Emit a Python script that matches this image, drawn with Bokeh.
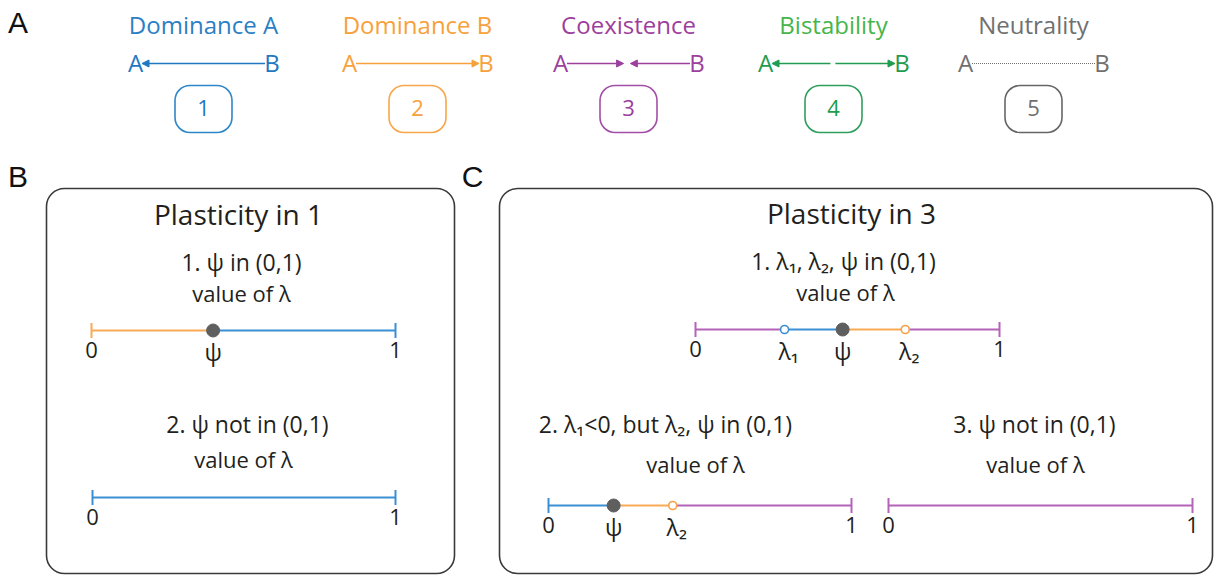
import numpy as np
from bokeh.plotting import figure
from bokeh.models import Range1d, Arrow, NormalHead
from bokeh.core.properties import value
from bokeh.embed import file_html
from bokeh.resources import INLINE

FONT = "Open Sans"

# ---------------- Panel A: the five possible outcomes ----------------
outcome_names = ["Dominance A", "Dominance B", "Coexistence", "Bistability", "Neutrality"]
outcome_ids = ["1", "2", "3", "4", "5"]
outcome_text_colors = ["#2b80c5", "#f7a13c", "#9c3f9d", "#46b54b", "#707070"]
outcome_arrow_colors = ["#1f78c1", "#f7a13c", "#9c3f9d", "#1f9c50", "#707070"]
outcome_box_colors = ["#2f86c8", "#f9a64a", "#a24ea6", "#2e9f5d", "#666666"]
# direction of selection on an A(0) .. B(1) axis: (from, to)
outcome_flows = [
    [(1.0, 0.0)],
    [(0.0, 1.0)],
    [(0.0, 0.46), (1.0, 0.515)],
    [(0.475, 0.0), (0.515, 1.0)],
    [],
]
outcome_neutral = [False, False, False, False, True]

# ---------------- Panels B and C: number lines of lambda ----------------
nl_names = ["B1", "B2", "C1", "C2", "C3"]
nl_titles = ["1. ψ in (0,1)", "2. ψ not in (0,1)", "1. λ₁, λ₂, ψ in (0,1)",
             "2. λ₁<0, but λ₂, ψ in (0,1)", "3. ψ not in (0,1)"]
nl_subtitle = "value of λ"
nl_breaks = [[0, 0.40, 1], [0, 1], [0, 0.293, 0.484, 0.69, 1], [0, 0.215, 0.41, 1], [0, 1]]
nl_outcomes = [["Dominance B", "Dominance A"], ["Dominance A"],
               ["Coexistence", "Dominance A", "Dominance B", "Coexistence"],
               ["Dominance A", "Dominance B", "Coexistence"], ["Coexistence"]]
psi_values = [0.40, None, 0.484, 0.215, None]
lambda1_values = [None, None, 0.293, None, None]
lambda2_values = [None, None, 0.69, 0.41, None]
tick_labels = ["0", "1"]

segment_colors = {"Dominance A": "#3b8fd4", "Dominance B": "#f8aa55", "Coexistence": "#b463b9"}
point_colors = {"λ₁": "#3b8fd4", "λ₂": "#f8a048"}

# ---------------- layout (pixels) ----------------
W, H = 1217, 579
A_CENTERS = [203, 417, 628, 833, 1033]
A_HALF = 61.5
A_TITLE_Y, A_ARROW_Y, A_BOX_Y = 24, 62, 108.5
A_BOX_W, A_BOX_H = 57, 47
NL_LAYOUT = {  # px0, px1, line_y, title_x, title_y, sub_x, sub_y
    "B1": (91, 395, 330, 241, 261.5, 241, 292.5),
    "B2": (92, 395, 497, 247, 423.5, 243, 458.5),
    "C1": (695, 999, 329, 843, 260.5, 845, 291.5),
    "C2": (548, 851, 505, 665, 423.5, 695, 463.5),
    "C3": (888, 1192, 505, 1034, 423.5, 1035, 463.5),
}
PANELS = [("B", 46, 454, 188, 573, "Plasticity in 1", 238, 213),
          ("C", 499, 1212, 188, 573, "Plasticity in 3", 851, 212)]
LETTERS = [("A", 17.5, 22), ("B", 17.5, 176), ("C", 472, 176)]

p = figure(width=W, height=H, x_range=Range1d(0, W), y_range=Range1d(H, 0),
           output_backend="svg", toolbar_location=None, min_border=0,
           x_axis_location=None, y_axis_location=None)
p.grid.visible = False
p.outline_line_color = None
p.background_fill_color = "white"
p.border_fill_color = "white"


def span_range(px0, px1):
    s = -px0 / (px1 - px0)
    return Range1d(s, s + W / (px1 - px0))


def txt(x, y, s, size, color="#231f20", font=FONT, **kw):
    p.text(x=[x], y=[y], text=[s], text_font=value(font), text_font_size=size,
           text_color=color, text_align="center", text_baseline="middle", **kw)


# panel letters
for s, x, y in LETTERS:
    txt(x, y, s, "30px", "#111111", font="Liberation Sans")

# ---- panel A ----
for i, name in enumerate(outcome_names):
    c = A_CENTERS[i]
    rn = f"A{i}"
    p.extra_x_ranges[rn] = span_range(c - A_HALF, c + A_HALF)
    txt(c, A_TITLE_Y, name, "24px", outcome_text_colors[i])
    col = outcome_arrow_colors[i]
    p.text(x=[0, 1], y=[A_ARROW_Y, A_ARROW_Y], text=["A", "B"], x_offset=[-6.5, 7],
           text_font=value(FONT), text_font_size="24px", text_color=col,
           text_align="center", text_baseline="middle", x_range_name=rn)
    if outcome_neutral[i]:
        p.line(x=[0, 1], y=[A_ARROW_Y + 1, A_ARROW_Y + 1], line_color=col, line_width=1,
               line_dash="1 1", x_range_name=rn)
    for a, b in outcome_flows[i]:
        p.add_layout(Arrow(end=NormalHead(size=7, fill_color=col, line_color=col, line_width=1),
                           x_start=a, y_start=A_ARROW_Y + 1, x_end=b, y_end=A_ARROW_Y + 1,
                           line_color=col, line_width=1.5, x_range_name=rn))
    p.quad(left=[c - A_BOX_W / 2], right=[c + A_BOX_W / 2], top=[A_BOX_Y - A_BOX_H / 2],
           bottom=[A_BOX_Y + A_BOX_H / 2], border_radius=15, fill_color=None,
           line_color=outcome_box_colors[i], line_width=1.6)
    txt(c, A_BOX_Y - 1, outcome_ids[i], "22px", col)

# ---- panels B, C frames ----
for letter, l, r, t, b, title, tx, ty in PANELS:
    p.quad(left=[l], right=[r], top=[t], bottom=[b], border_radius=18, fill_color=None,
           line_color="#3a3a3a", line_width=1.6)
    txt(tx, ty, title, "28px")

# ---- number lines ----
for k, nm in enumerate(nl_names):
    px0, px1, ly, tx, ty, sx, sy = NL_LAYOUT[nm]
    p.extra_x_ranges[nm] = span_range(px0, px1)
    txt(tx, ty, nl_titles[k], "23px")
    txt(sx, sy, nl_subtitle, "22px")
    br = nl_breaks[k]
    cols = [segment_colors[o] for o in nl_outcomes[k]]
    p.segment(x0=br[:-1], x1=br[1:], y0=[ly] * len(cols), y1=[ly] * len(cols),
              line_color=cols, line_width=2, x_range_name=nm)
    p.segment(x0=[0, 1], x1=[0, 1], y0=[ly - 7.5] * 2, y1=[ly + 7.5] * 2,
              line_color=[cols[0], cols[-1]], line_width=2, x_range_name=nm)
    p.text(x=[0, 1], y=[ly + 19.5] * 2, text=tick_labels, text_font=value(FONT),
           text_font_size="22px", text_color="#231f20", text_align="center",
           text_baseline="middle", x_range_name=nm)
    for lab, vals in (("λ₁", lambda1_values), ("λ₂", lambda2_values)):
        v = vals[k]
        if v is not None:
            p.scatter(x=[v], y=[ly], size=8, marker="circle", fill_color="white",
                      line_color=point_colors[lab], line_width=1.6, x_range_name=nm)
            p.text(x=[v], y=[ly + 21.5], text=[lab], x_offset=4, text_font=value(FONT),
                   text_font_size="23px", text_color="#231f20", text_align="center",
                   text_baseline="middle", x_range_name=nm)
    v = psi_values[k]
    if v is not None:
        p.scatter(x=[v], y=[ly], size=13, marker="circle", fill_color="#5f5f5f",
                  line_color="#5f5f5f", x_range_name=nm)
        p.text(x=[v], y=[ly + 21.5], text=["ψ"], text_font=value(FONT),
               text_font_size="23px", text_color="#231f20", text_align="center",
               text_baseline="middle", x_range_name=nm)

open("out.html", "w").write(file_html(p, INLINE))
